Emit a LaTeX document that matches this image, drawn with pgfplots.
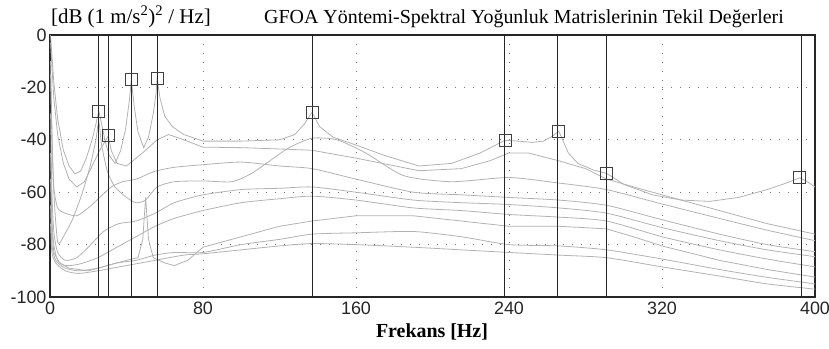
\documentclass[border=0pt]{standalone}
\usepackage{pgfplots}
\pgfplotsset{compat=1.18}
\usepackage{fontspec}
\setmainfont{Liberation Serif}
\newfontfamily\arialf{Liberation Sans}
\begin{document}
\begin{tikzpicture}[x=1bp,y=1bp]
\path[use as bounding box] (-50,-51) rectangle (779,297);
\begin{axis}[at={(0,0)},anchor=south west,
  width=765bp, height=262bp, scale only axis,
  xmin=0, xmax=400, ymin=-100, ymax=0,
  xtick={0,80,...,400}, ytick={-100,-80,...,0},
  major tick length=0pt,
  grid=major,
  major grid style={black!55, line width=0.9bp, dash pattern=on 1bp off 8bp},
  axis line style={black!85, line width=1.2bp},
  tick label style={font=\arialf\fontsize{18}{20}\selectfont, text=black!85},
  /pgf/number format/assume math mode=true,
  yticklabel style={xshift=0bp},
  xticklabel style={yshift=-1bp},
  every axis plot/.append style={line width=0.8bp},
]
% singular value curves
\addplot[gray!60] coordinates {(0.3,0)(1,-8)(2,-18)(4,-32)(7,-44)(10,-50)(13,-53)(16,-52)(19,-47)(22,-40)(24,-34)(25.5,-29)(27,-34)(29,-41)(31,-46)(34,-49)(37,-44)(39.5,-36)(41.5,-25)(42.5,-17)(44,-27)(46,-37)(49,-43)(51.5,-39)(54,-30)(55.5,-22)(56,-16.5)(57.5,-24)(60,-31)(64,-35)(70,-38)(80,-40.5)(100,-40.5)(120,-40)(128,-38)(133,-34)(137,-29.5)(141,-35)(148,-39)(160,-42)(175,-46)(193,-50)(210,-49)(225,-45)(233,-42)(238,-40.2)(245,-40.5)(252,-41)(258,-40.5)(263,-38.5)(266,-36.7)(268,-40)(271,-45)(276,-49)(284,-51.5)(291,-52.8)(300,-57)(315,-61)(330,-63)(345,-63.5)(360,-62)(375,-59)(385,-56.5)(392,-54.5)(396,-56)(400,-58)};
\addplot[gray!60] coordinates {(0.3,-3)(1,-12)(2,-24)(4,-38)(7,-49)(10,-55)(14,-58)(18,-56)(22,-50)(26,-44)(28.5,-41)(30.5,-38.5)(32,-44)(35,-49)(40,-50)(45,-47)(50,-44)(56,-40)(62,-38)(70,-40)(80,-42.8)(100,-43)(120,-43.5)(137,-44)(160,-47)(193,-51.8)(215,-51)(230,-48)(240,-45)(250,-45)(266,-48)(280,-51)(291,-55)(310,-59)(330,-63)(350,-67)(375,-72)(400,-76)};
\addplot[gray!60, smooth, tension=0.4] coordinates {(0.3,-10)(1,-35)(2,-60)(4,-79)(7,-77)(12,-70)(17,-60)(21,-50)(24,-40)(25.5,-33)(27,-42)(30,-52)(34,-58)(40,-62)(45,-64)(50,-63)(56,-58)(65,-56)(80,-55.7)(95,-56)(105,-53)(115,-48)(125,-43)(137,-39.4)(150,-40)(165,-45)(185,-53.7)(210,-56)(240,-54.4)(266,-56.5)(291,-59)(320,-64.5)(350,-70)(375,-74.5)(400,-78.5)};
\addplot[gray!60, smooth, tension=0.4] coordinates {(0.3,-15)(1,-40)(2,-58)(4,-66)(8,-68)(14,-69)(20,-66)(26,-62)(32,-58)(38,-56)(45,-55)(55,-52)(65,-50.5)(80,-49.5)(100,-48.5)(120,-50)(137,-51)(160,-55)(190,-60)(215,-61)(240,-62)(266,-63)(291,-65)(320,-70.5)(350,-76)(375,-80)(400,-82.7)};
\addplot[gray!60, smooth, tension=0.4] coordinates {(0.3,-30)(1,-60)(2,-75)(4,-83)(8,-86)(14,-85)(20,-81)(28,-75)(36,-72)(45,-71)(55,-68)(65,-64)(80,-61)(100,-59)(120,-58.5)(137,-58)(160,-60)(190,-63)(215,-64)(240,-64.7)(266,-66)(291,-68)(320,-73.5)(350,-78.5)(375,-82)(400,-84.6)};
\addplot[gray!60, smooth, tension=0.4] coordinates {(0.3,-45)(1,-70)(2,-80)(4,-86)(8,-88)(15,-87.5)(25,-85)(35,-81)(45,-77)(55,-73)(65,-70)(80,-67)(100,-64)(120,-62.5)(137,-61.5)(160,-63)(190,-66)(215,-67)(240,-68.5)(266,-69.5)(291,-71)(320,-77)(350,-82)(375,-85.5)(400,-88.5)};
\addplot[gray!60] coordinates {(0.3,-55)(1,-75)(2,-83)(5,-87)(10,-89)(20,-90)(30,-88)(40,-86)(46,-85)(48.5,-78)(50,-62)(51.5,-78)(54,-85)(60,-87)(65,-88)(72,-86)(80,-81)(90,-79)(100,-77)(120,-73)(137,-71)(160,-69)(190,-69)(215,-71)(240,-73)(266,-73)(291,-74)(305,-77)(320,-80.5)(350,-86)(375,-89.5)(400,-92.4)};
\addplot[gray!60, smooth, tension=0.4] coordinates {(0.3,-65)(1,-80)(3,-86)(8,-89)(15,-90)(25,-89)(35,-87)(45,-86)(55,-84)(65,-83)(80,-83)(100,-80)(120,-78)(137,-76)(160,-75.5)(190,-75)(215,-77)(240,-80)(266,-80.5)(291,-82)(320,-85.5)(350,-89.5)(375,-92.5)(400,-95)};
\addplot[gray!60, smooth, tension=0.4] coordinates {(0.3,-72)(1,-83)(3,-87)(8,-90)(15,-91)(25,-90)(40,-88)(55,-86)(70,-84)(80,-83.5)(100,-82)(120,-80.5)(137,-79.6)(160,-80)(190,-81)(215,-82)(240,-83)(266,-84)(291,-85)(320,-88.5)(350,-92)(375,-95)(400,-97)};
% selected peaks: vertical lines
\pgfplotsinvokeforeach{25.5,30.5,42.5,56,137,237.5,265.5,291,393}{
  \addplot[black!85, line width=1bp] coordinates {(#1,-100) (#1,0)};
}
% peak markers
\addplot[only marks, mark=square, mark size=6bp, black!75, mark options={line width=0.9bp}]
  coordinates {(25.5,-29)(30.5,-38.5)(42.5,-17)(56,-16.5)(137,-29.5)(238,-40.2)(266,-36.7)(291,-52.8)(392,-54.5)};
\end{axis}
\node[font=\fontsize{21}{23}\selectfont, anchor=base] at (81,274) {[dB (1 m/s\textsuperscript{2})\textsuperscript{2} / Hz]};
\node[font=\fontsize{20}{22}\selectfont, anchor=base] at (474,274) {GFOA Yöntemi-Spektral Yoğunluk Matrislerinin Tekil Değerleri};
\node[font=\bfseries\fontsize{20}{22}\selectfont, anchor=base] at (382,-40) {Frekans [Hz]};
\end{tikzpicture}
\end{document}
